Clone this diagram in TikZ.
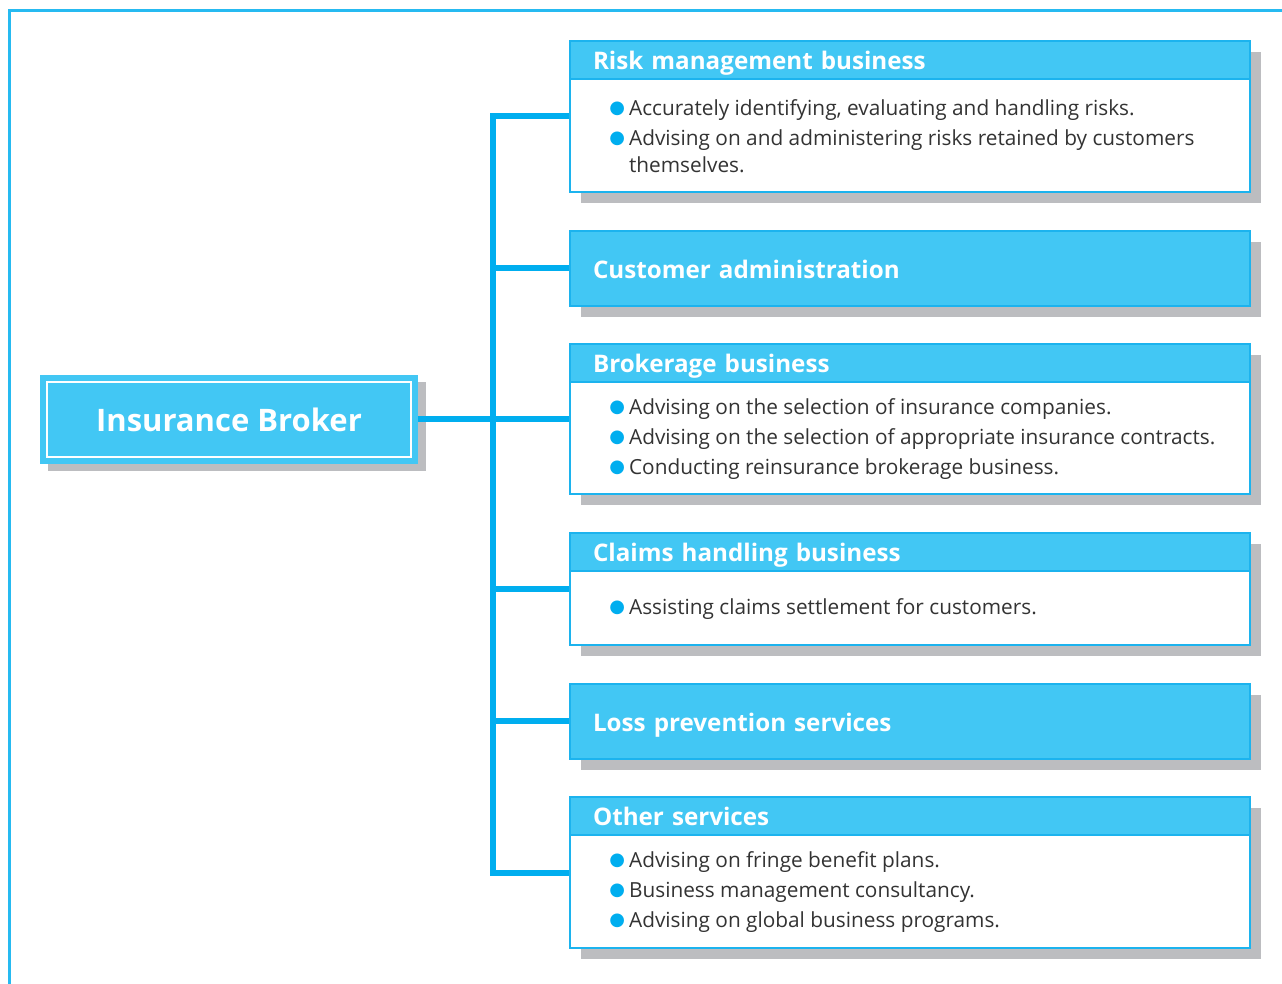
\documentclass[tikz,border=0pt]{standalone}
\usepackage{fontspec}
\setmainfont{Open Sans}
\newfontfamily\dotfont{DejaVu Sans}
\usetikzlibrary{shadows,calc}

\definecolor{skyfill}{HTML}{42C7F4}
\definecolor{skyline}{HTML}{1CB3EE}
\definecolor{linkblue}{HTML}{00AEEF}
\definecolor{shadowgray}{HTML}{BCBDC0}
\definecolor{bodytext}{HTML}{333333}

\newcommand{\bul}{\raisebox{1pt}{\dotfont\fontsize{9}{9}\selectfont\textcolor{linkblue}{●}}\hspace{2pt}}
\newcommand{\ind}{\hphantom{\bul}}

\tikzset{
  card/.style={draw=skyline, line width=1pt, fill=white, minimum width=340pt, inner sep=0pt,
    drop shadow={shadow xshift=5.5pt, shadow yshift=-5.5pt, fill=shadowgray, opacity=1}},
  bluecard/.style={card, fill=skyfill, text=white, text width=317pt, align=left,
    inner xsep=11.5pt, text height=12pt, text depth=2pt,
    font=\bfseries\fontsize{12.1}{15}\selectfont},
  cardhead/.style={anchor=north west, draw=skyline, line width=1pt, fill=skyfill, text=white,
    minimum width=340pt, minimum height=19pt, inner xsep=11.5pt, inner ysep=0pt,
    text height=12pt, text depth=2pt,
    text width=317pt, align=left, font=\bfseries\fontsize{12.1}{15}\selectfont},
  cardbody/.style={anchor=west, inner sep=0pt, align=left, text=bodytext,
    font=\fontsize{10.4}{13.5}\selectfont},
  link/.style={draw=linkblue, line width=3pt, line join=miter},
  frame/.style={draw=linkblue!85, line width=1.5pt}
}

\begin{document}
\begin{tikzpicture}[x=0.5pt, y=-0.5pt]
\useasboundingbox (0,0) rectangle (1282,984);

% outer frame
\draw[frame] (9,984) -- (9,11) -- (1282,11);

% root
\node[fill=skyfill, minimum width=189pt, minimum height=44.5pt, inner sep=0pt,
  text=white, font=\bfseries\fontsize{15.5}{18}\selectfont,
  drop shadow={shadow xshift=3.75pt, shadow yshift=-3.5pt, fill=shadowgray, opacity=1},
  path picture={\draw[white, line width=1pt]
    ($(path picture bounding box.south west)+(3.5pt,3.5pt)$) rectangle
    ($(path picture bounding box.north east)-(3.5pt,3.5pt)$);}]
  (broker) at (229,419.5) {Insurance Broker};

% cards
\node[card, minimum height=75.5pt] (b1) at (910,116.5) {};
\node[cardhead] (h1) at (b1.north west) {Risk management business};

\node[bluecard, minimum height=37.5pt] (b2) at (910,268.5) {Customer administration};

\node[card, minimum height=75pt] (b3) at (910,419) {};
\node[cardhead] (h3) at (b3.north west) {Brokerage business};

\node[card, minimum height=56pt] (b4) at (910,589) {};
\node[cardhead] (h4) at (b4.north west) {Claims handling business};

\node[bluecard, minimum height=37.5pt] (b5) at (910,721.5) {Loss prevention services};

\node[card, minimum height=75.5pt] (b6) at (910,872.5) {};
\node[cardhead] (h6) at (b6.north west) {Other services};

% body texts
\coordinate (indent) at (609,0);
\path ($(h1.south)!0.5!(b1.south)$) coordinate (m1)
      ($(h3.south)!0.5!(b3.south)$) coordinate (m3)
      ($(h4.south)!0.5!(b4.south)$) coordinate (m4)
      ($(h6.south)!0.5!(b6.south)$) coordinate (m6);

\node[cardbody] (t1) at (m1 -| indent) {\bul Accurately identifying, evaluating and handling risks.\\[1.5pt]
  \bul Advising on and administering risks retained by customers\\
  \ind themselves.};
\node[cardbody] (t3) at (m3 -| indent) {\bul Advising on the selection of insurance companies.\\[1.5pt]
  \bul Advising on the selection of appropriate insurance contracts.\\[1.5pt]
  \bul Conducting reinsurance brokerage business.};
\node[cardbody] (t4) at (m4 -| indent) {\bul Assisting claims settlement for customers.};
\node[cardbody] (t6) at (m6 -| indent) {\bul Advising on fringe benefit plans.\\[1.5pt]
  \bul Business management consultancy.\\[1.5pt]
  \bul Advising on global business programs.};

% connectors
\coordinate (trunk) at (493,0);
\draw[link] (b1.west) -- (b1.west -| trunk) -- (b6.west -| trunk) -- (b6.west);
\draw[link] (b2.west -| trunk) -- (b2.west);
\draw[link] (b4.west -| trunk) -- (b4.west);
\draw[link] (b5.west -| trunk) -- (b5.west);
\draw[link] (broker.east) -- (broker.east -| b3.west);
\end{tikzpicture}
\end{document}
